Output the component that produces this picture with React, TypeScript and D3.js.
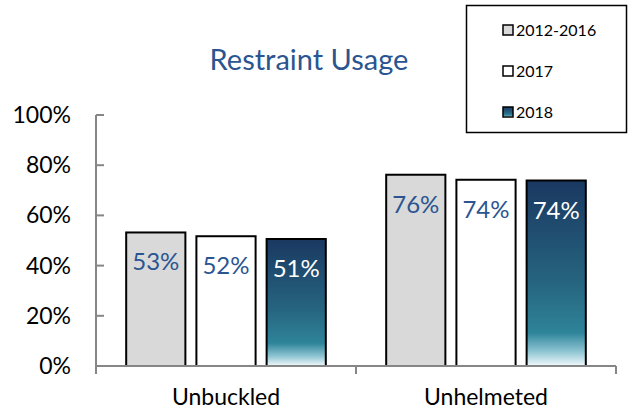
import * as d3 from "d3";
import React, { useEffect, useRef } from "react";

const categories = ["Unbuckled", "Unhelmeted"];
const seriesNames = ["2012-2016", "2017", "2018"];
const values2012to2016 = [53.2, 76.2];
const values2017 = [51.7, 74.2];
const values2018 = [50.6, 73.9];
const valueLabels = [
  ["53%", "52%", "51%"],
  ["76%", "74%", "74%"],
];
const yTicks = [0, 20, 40, 60, 80, 100];

const FONT = "Lato, 'Open Sans', sans-serif";
const BLUE = "#2B5591";

export default function App() {
  const ref = useRef<SVGSVGElement | null>(null);

  useEffect(() => {
    const svg = d3.select(ref.current);
    svg.selectAll("*").remove();

    const width = 628;
    const height = 410;
    const left = 96;
    const right = 616;
    const top = 115;
    const bottom = 366;

    svg.attr("width", width).attr("height", height);

    const defs = svg.append("defs");
    const grad = defs
      .append("linearGradient")
      .attr("id", "navy")
      .attr("x1", 0)
      .attr("y1", 0)
      .attr("x2", 0)
      .attr("y2", 1);
    grad.append("stop").attr("offset", "0%").attr("stop-color", "#1a3861");
    grad.append("stop").attr("offset", "55%").attr("stop-color", "#26647f");
    grad.append("stop").attr("offset", "82%").attr("stop-color", "#2e8499");
    grad.append("stop").attr("offset", "92%").attr("stop-color", "#8cc3d2");
    grad.append("stop").attr("offset", "100%").attr("stop-color", "#f2f9fb");

    const fills = ["#d9d9d9", "#ffffff", "url(#navy)"];
    const labelColors = [BLUE, BLUE, "#ffffff"];

    const x0 = d3.scaleBand().domain(categories).range([left, right]);
    const x1 = d3
      .scaleBand()
      .domain(seriesNames)
      .range([0, x0.bandwidth()])
      .paddingInner(0.157)
      .paddingOuter(0.43);
    const y = d3.scaleLinear().domain([0, 100]).range([bottom, top]);

    const rows = categories.map((c, i) => ({
      category: c,
      values: [values2012to2016[i], values2017[i], values2018[i]],
    }));

    // title
    svg
      .append("text")
      .attr("x", 309)
      .attr("y", 70)
      .attr("text-anchor", "middle")
      .attr("font-family", FONT)
      .attr("font-size", 29)
      .attr("fill", BLUE)
      .text("Restraint Usage");

    // y axis
    const axisColor = "#868686";
    svg
      .append("line")
      .attr("x1", left)
      .attr("x2", left)
      .attr("y1", top)
      .attr("y2", bottom + 8)
      .attr("stroke", axisColor)
      .attr("stroke-width", 2);
    yTicks.forEach((t) => {
      svg
        .append("line")
        .attr("x1", left)
        .attr("x2", left + 8)
        .attr("y1", y(t))
        .attr("y2", y(t))
        .attr("stroke", axisColor)
        .attr("stroke-width", 2);
      svg
        .append("text")
        .attr("x", 71)
        .attr("y", y(t))
        .attr("dy", "0.35em")
        .attr("text-anchor", "end")
        .attr("font-family", FONT)
        .attr("font-size", 23)
        .attr("fill", "#000")
        .text(`${t}%`);
    });

    // bars
    rows.forEach((row, ci) => {
      const g = svg
        .append("g")
        .attr("transform", `translate(${x0(row.category)},0)`);
      row.values.forEach((v, si) => {
        const bx = x1(seriesNames[si])!;
        g.append("rect")
          .attr("x", bx)
          .attr("y", y(v))
          .attr("width", x1.bandwidth())
          .attr("height", y(0) - y(v))
          .attr("fill", fills[si])
          .attr("stroke", "#000")
          .attr("stroke-width", 2);
        g.append("text")
          .attr("x", bx + x1.bandwidth() / 2)
          .attr("y", y(v) + 38)
          .attr("text-anchor", "middle")
          .attr("font-family", FONT)
          .attr("font-size", 24)
          .attr("fill", labelColors[si])
          .text(valueLabels[ci][si]);
      });
    });

    // x axis
    svg
      .append("line")
      .attr("x1", left)
      .attr("x2", right)
      .attr("y1", bottom)
      .attr("y2", bottom)
      .attr("stroke", axisColor)
      .attr("stroke-width", 2);
    [left, x0(categories[1])!, right].forEach((tx) => {
      svg
        .append("line")
        .attr("x1", tx)
        .attr("x2", tx)
        .attr("y1", bottom)
        .attr("y2", bottom + 8)
        .attr("stroke", axisColor)
        .attr("stroke-width", 2);
    });
    categories.forEach((c) => {
      svg
        .append("text")
        .attr("x", x0(c)! + x0.bandwidth() / 2)
        .attr("y", 405)
        .attr("text-anchor", "middle")
        .attr("font-family", FONT)
        .attr("font-size", 23)
        .attr("fill", "#000")
        .text(c);
    });

    // legend
    const legend = svg.append("g");
    legend
      .append("rect")
      .attr("x", 466.5)
      .attr("y", 5.5)
      .attr("width", 160)
      .attr("height", 127)
      .attr("fill", "#fff")
      .attr("stroke", "#000")
      .attr("stroke-width", 1.5);
    seriesNames.forEach((s, i) => {
      const ly = 30 + i * 41;
      legend
        .append("rect")
        .attr("x", 503)
        .attr("y", ly - 5)
        .attr("width", 10)
        .attr("height", 10)
        .attr("fill", fills[i])
        .attr("stroke", "#000")
        .attr("stroke-width", 1.5);
      legend
        .append("text")
        .attr("x", 516)
        .attr("y", ly)
        .attr("dy", "0.35em")
        .attr("font-family", FONT)
        .attr("font-size", 16)
        .attr("fill", "#000")
        .text(s);
    });
  }, []);

  return (
    <div style={{ position: "absolute", left: 0, top: 0 }}>
      <svg ref={ref} style={{ display: "block" }} />
    </div>
  );
}
